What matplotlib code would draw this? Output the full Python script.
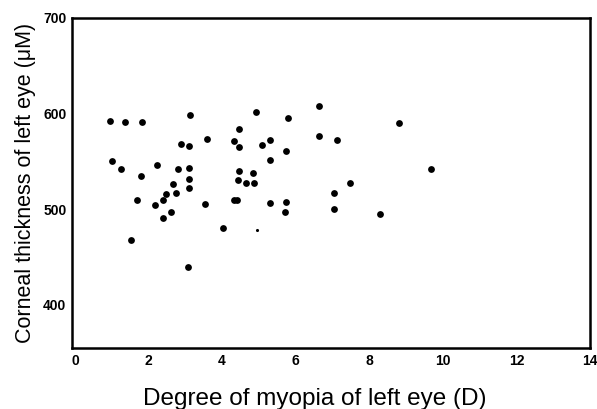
import numpy as np
import matplotlib
matplotlib.use("Agg")
import matplotlib.pyplot as plt

# degree of myopia (D) vs corneal thickness
myopia = [0.95, 1.36, 1.82, 3.13, 3.58, 2.87, 3.09, 1.02, 1.25, 2.22,
          1.79, 2.81, 3.09, 3.09, 3.09, 2.66, 2.47, 2.76, 1.70, 2.18,
          2.40, 3.54, 2.62, 2.40, 4.03, 1.52, 3.08, 4.91, 6.63, 5.80,
          4.46, 4.32, 4.46, 5.08, 5.31, 5.74, 6.63, 7.12, 5.31, 4.46,
          4.85, 4.44, 4.64, 4.87, 7.47, 7.05, 4.41, 4.32, 5.30, 5.73,
          5.71, 7.04, 8.80, 9.67, 8.30]
thickness = [592, 591, 591, 599, 574, 568, 566, 550, 542, 546,
             535, 542, 543, 532, 522, 526, 516, 517, 510, 505,
             510, 506, 497, 491, 480, 468, 440, 602, 608, 595,
             584, 571, 565, 567, 572, 561, 577, 572, 552, 540,
             538, 531, 528, 528, 528, 517, 510, 510, 507, 508,
             497, 500, 590, 542, 495]
# faint small dot
small_x = [4.96]
small_y = [478]

xticks = [0, 2, 4, 6, 8, 10, 12, 14]
yticks = [400, 500, 600, 700]

fig = plt.figure(figsize=(5.97, 4.09), dpi=100)
ax = fig.add_axes([72/597, 1 - 348/409, (590 - 72)/597, (348 - 18)/409])

ax.scatter(myopia, thickness, s=24, color='black', linewidths=0, zorder=3)
ax.scatter(small_x, small_y, s=5, color='black', linewidths=0, zorder=3)

ax.set_xlim(-0.08, 14)
ax.set_ylim(355, 700)
ax.set_xticks(xticks)
ax.set_yticks(yticks)
ax.tick_params(length=0, pad=4, labelsize=10)
for lab in ax.get_xticklabels() + ax.get_yticklabels():
    lab.set_fontweight('bold')
    lab.set_family('Liberation Sans')
for s in ax.spines.values():
    s.set_linewidth(1.8)

ax.set_xlabel('Degree of myopia of left eye (D)', fontsize=17.5,
              family='Liberation Sans')
ax.xaxis.set_label_coords(0.469, -0.12, transform=ax.transAxes)
ax.xaxis.label.set_va('top')
ax.set_ylabel('Corneal thickness of left eye (\u03bcM)', fontsize=15.5,
              family='Liberation Sans', labelpad=5)

fig.savefig('out.png', dpi=100)
